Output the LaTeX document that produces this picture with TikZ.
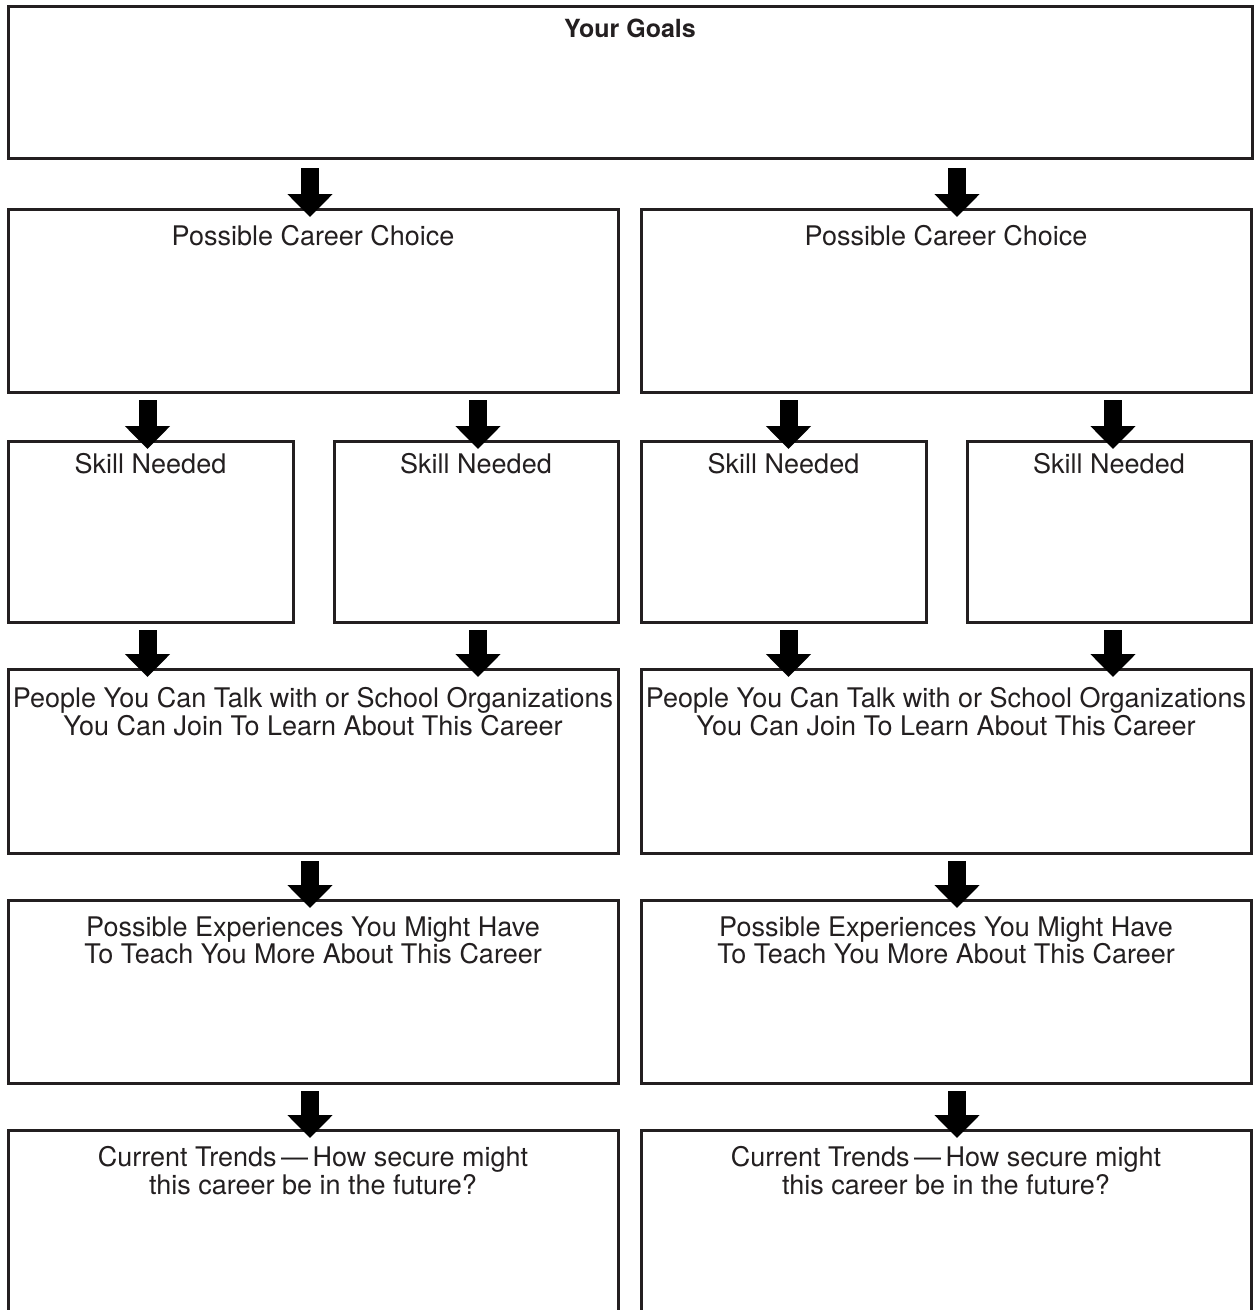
\documentclass[tikz,border=0pt]{standalone}
\usepackage{fontspec}
\setmainfont{TeX Gyre Heros}
\usetikzlibrary{arrows.meta,calc}
\definecolor{ink}{HTML}{231F20}
\tikzset{
  box/.style={draw=ink, line width=3pt, rectangle, inner sep=0pt, outer sep=0pt, anchor=north west},
  lbl/.style={anchor=north, align=center, inner sep=0pt, text=ink, font=\fontsize{27}{28.5}\selectfont},
  flowarrow/.style={draw=black, line width=18pt, -{Triangle[width=44pt,length=23pt]}},
}
\begin{document}
\begin{tikzpicture}[x=1pt,y=-1pt]
\useasboundingbox (0,0) rectangle (1259,1310);
\clip (0,0) rectangle (1259,1310);
\fill[white] (0,0) rectangle (1259,1310);
% boxes
\node[box, minimum width=1244pt, minimum height=152pt] (g) at (8,6) {};
\node[box, minimum width=610pt, minimum height=183pt] (c1) at (8,209) {};
\node[box, minimum width=610pt, minimum height=183pt] (c2) at (641,209) {};
\node[box, minimum width=285pt, minimum height=181pt] (s1) at (8,441) {};
\node[box, minimum width=284pt, minimum height=181pt] (s2) at (334,441) {};
\node[box, minimum width=285pt, minimum height=181pt] (s3) at (641,441) {};
\node[box, minimum width=284pt, minimum height=181pt] (s4) at (967,441) {};
\node[box, minimum width=610pt, minimum height=184pt] (p1) at (8,669) {};
\node[box, minimum width=610pt, minimum height=184pt] (p2) at (641,669) {};
\node[box, minimum width=610pt, minimum height=183pt] (e1) at (8,900) {};
\node[box, minimum width=610pt, minimum height=183pt] (e2) at (641,900) {};
\node[box, minimum width=610pt, minimum height=230pt] (t1) at (8,1130) {};
\node[box, minimum width=610pt, minimum height=230pt] (t2) at (641,1130) {};
% labels
\node[lbl, font=\fontsize{25}{28}\selectfont\bfseries] (gl) at ([yshift=-13pt]g.north) {Your Goals};
\node[lbl] (c1l) at ([yshift=-16pt]c1.north) {Possible Career Choice};
\node[lbl] (c2l) at ([yshift=-16pt]c2.north) {Possible Career Choice};
\node[lbl] (s1l) at ([yshift=-12pt]s1.north) {Skill Needed};
\node[lbl] (s2l) at ([yshift=-12pt]s2.north) {Skill Needed};
\node[lbl] (s3l) at ([yshift=-12pt]s3.north) {Skill Needed};
\node[lbl] (s4l) at ([yshift=-12pt]s4.north) {Skill Needed};
\node[lbl] (p1l) at ([yshift=-18pt]p1.north) {People You Can Talk with or School Organizations\\You Can Join To Learn About This Career};
\node[lbl] (p2l) at ([yshift=-18pt]p2.north) {People You Can Talk with or School Organizations\\You Can Join To Learn About This Career};
\node[lbl, font=\fontsize{27}{26}\selectfont] (e1l) at ([yshift=-17pt]e1.north) {Possible Experiences You Might Have\\To Teach You More About This Career};
\node[lbl, font=\fontsize{27}{26}\selectfont] (e2l) at ([yshift=-17pt]e2.north) {Possible Experiences You Might Have\\To Teach You More About This Career};
\node[lbl] (t1l) at ([yshift=-16pt]t1.north) {Current Trends\,—\,How secure might\\this career be in the future?};
\node[lbl] (t2l) at ([yshift=-16pt]t2.north) {Current Trends\,—\,How secure might\\this career be in the future?};
% arrows
\draw[flowarrow] ([xshift=-3pt,yshift=-10pt]g.south -| c1.north) -- ([xshift=-3pt,yshift=-8pt]c1.north);
\draw[flowarrow] ([xshift=11pt,yshift=-10pt]g.south -| c2.north) -- ([xshift=11pt,yshift=-8pt]c2.north);
\draw[flowarrow] ([xshift=-3pt,yshift=-8pt]c1.south -| s1.north) -- ([xshift=-3pt,yshift=-8pt]s1.north);
\draw[flowarrow] ([xshift=2pt,yshift=-8pt]c1.south -| s2.north) -- ([xshift=2pt,yshift=-8pt]s2.north);
\draw[flowarrow] ([xshift=5pt,yshift=-8pt]c2.south -| s3.north) -- ([xshift=5pt,yshift=-8pt]s3.north);
\draw[flowarrow] ([xshift=4pt,yshift=-8pt]c2.south -| s4.north) -- ([xshift=4pt,yshift=-8pt]s4.north);
\draw[flowarrow] ([xshift=-3pt,yshift=-8pt]s1.south) -- ([xshift=-3pt,yshift=-8pt]p1.north -| s1.south);
\draw[flowarrow] ([xshift=2pt,yshift=-8pt]s2.south) -- ([xshift=2pt,yshift=-8pt]p1.north -| s2.south);
\draw[flowarrow] ([xshift=5pt,yshift=-8pt]s3.south) -- ([xshift=5pt,yshift=-8pt]p2.north -| s3.south);
\draw[flowarrow] ([xshift=4pt,yshift=-8pt]s4.south) -- ([xshift=4pt,yshift=-8pt]p2.north -| s4.south);
\draw[flowarrow] ([xshift=-3pt,yshift=-8pt]p1.south) -- ([xshift=-3pt,yshift=-8pt]e1.north);
\draw[flowarrow] ([xshift=11pt,yshift=-8pt]p2.south) -- ([xshift=11pt,yshift=-8pt]e2.north);
\draw[flowarrow] ([xshift=-3pt,yshift=-8pt]e1.south) -- ([xshift=-3pt,yshift=-8pt]t1.north);
\draw[flowarrow] ([xshift=11pt,yshift=-8pt]e2.south) -- ([xshift=11pt,yshift=-8pt]t2.north);
\end{tikzpicture}
\end{document}
